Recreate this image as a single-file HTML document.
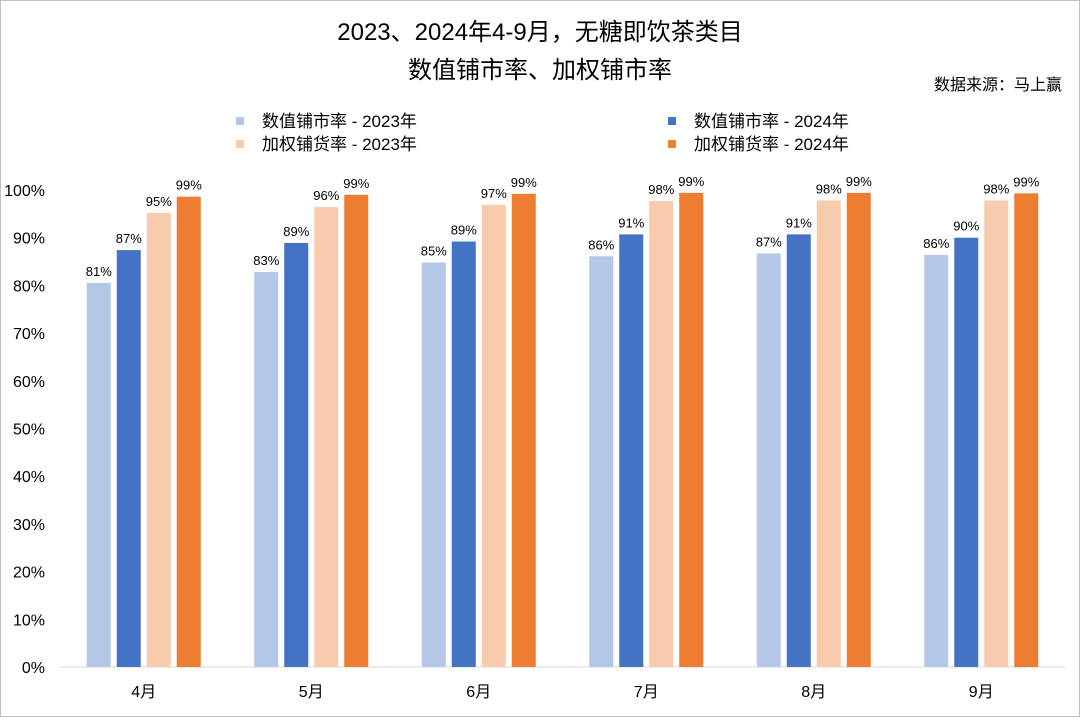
<!DOCTYPE html>
<html><head><meta charset="utf-8"><style>
body{margin:0;background:#fff;}
svg text{font-family:"Liberation Sans","Noto Sans CJK SC",sans-serif;}
</style></head><body>
<svg id="c" width="1080" height="717">
<rect x="0.5" y="0.5" width="1079" height="716" fill="#fff" stroke="#bfbfbf"/>
<text x="540" y="40" text-anchor="middle" font-size="24" fill="#000">2023、2024年4-9月，无糖即饮茶类目</text>
<text x="540" y="78" text-anchor="middle" font-size="24" fill="#000">数值铺市率、加权铺市率</text>
<text x="1062" y="90" text-anchor="end" font-size="16" fill="#000">数据来源：马上赢</text>
<g id="legend"></g>
<g id="axes"></g>
<g id="bars"></g>
</svg>
<script>
const categories=["4月","5月","6月","7月","8月","9月"];
const seriesNames=["数值铺市率 - 2023年","数值铺市率 - 2024年","加权铺货率 - 2023年","加权铺货率 - 2024年"];
const s2023num=[80.5,82.8,84.8,86.1,86.7,86.4];
const s2024num=[87.4,88.9,89.2,90.7,90.7,90.0];
const s2023w=[95.2,96.4,96.9,97.7,97.8,97.8];
const s2024w=[98.6,99.0,99.2,99.4,99.4,99.3];
const yTicks=[0,10,20,30,40,50,60,70,80,90,100];
const colors=["#b4c7e7","#4472c4","#f8cbad","#ed7d31"];
const NS="http://www.w3.org/2000/svg";
const X0=60,X1=1065,Y0=667,Y100=190;
const y=v=>Y0-(Y0-Y100)*v/100;
const band=(X1-X0)/categories.length;
const xc=i=>X0+band*(i+0.5);
function mk(t,a,p){const e=document.createElementNS(NS,t);for(const k in a)e.setAttribute(k,a[k]);p.appendChild(e);return e;}
const axes=document.getElementById('axes'),bars=document.getElementById('bars'),leg=document.getElementById('legend');
yTicks.forEach(t=>{const e=mk('text',{x:45,y:y(t)+6,'text-anchor':'end','font-size':16,fill:'#000'},axes);e.textContent=t+'%';

});
const ax=mk('line',{x1:X0,x2:X1,y1:Y0,y2:Y0,stroke:'#d9d9d9','stroke-width':1},axes);


categories.forEach((c,i)=>{const e=mk('text',{x:xc(i),y:697,'text-anchor':'middle','font-size':16,fill:'#000'},axes);e.textContent=c;

});
const series=[s2023num,s2024num,s2023w,s2024w];
const bw=24,gap=6;
series.forEach((s,k)=>{s.forEach((v,i)=>{
const x=xc(i)-57+k*(bw+gap);
const r=mk('rect',{x:x,y:y(v),width:bw,height:Y0-y(v),fill:colors[k]},bars);


const t=mk('text',{x:x+bw/2,y:y(v)-7,'text-anchor':'middle','font-size':13,fill:'#000'},bars);t.textContent=Math.round(v)+'%';


});});
const lp=[[236,127],[668,127],[236,150],[668,150]];
seriesNames.forEach((n,k)=>{
const r=mk('rect',{x:lp[k][0],y:lp[k][1]-10,width:8,height:8,fill:colors[k]},leg);


const t=mk('text',{x:lp[k][0]+26,y:lp[k][1],'font-size':17,fill:'#000'},leg);t.textContent=n;


});
</script>
</body></html>
